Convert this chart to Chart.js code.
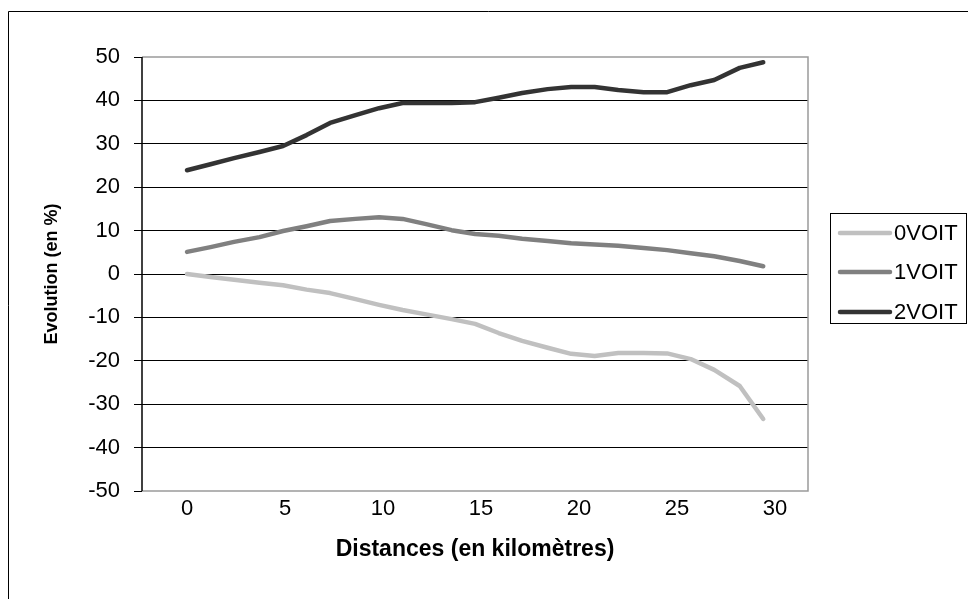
<!DOCTYPE html>
<html>
<head>
<meta charset="utf-8">
<script src="https://cdn.jsdelivr.net/npm/chart.js@4.4.1/dist/chart.umd.min.js"></script>
<style>
  html, body { margin: 0; padding: 0; background: #fff; }
  #wrap { position: absolute; left: 0; top: 0; width: 968px; height: 599px; }
</style>
</head>
<body>
<div id="wrap"><canvas id="c" width="968" height="599"></canvas></div>
<script>
// Distances (km) of each sample
const distances = [0, 1.2, 2.4, 3.7, 4.9, 6.1, 7.3, 8.6, 9.8, 11.0, 12.2, 13.5, 14.7,
                   15.9, 17.1, 18.4, 19.6, 20.8, 22.0, 23.3, 24.5, 25.7, 26.9, 28.2, 29.4];
// Evolution (%) per series
const voit0 = [0, -0.7, -1.3, -2.0, -2.6, -3.6, -4.4, -5.8, -7.1, -8.3, -9.3, -10.4, -11.5,
               -13.6, -15.4, -17.0, -18.4, -18.9, -18.2, -18.2, -18.3, -19.6, -22.1, -25.8, -33.4];
const voit1 = [5.1, 6.2, 7.4, 8.5, 9.9, 11.0, 12.2, 12.7, 13.1, 12.7, 11.5, 10.1, 9.2,
               8.8, 8.1, 7.6, 7.1, 6.8, 6.5, 6.0, 5.5, 4.8, 4.1, 3.0, 1.8];
const voit2 = [23.9, 25.3, 26.7, 28.1, 29.5, 32.0, 34.8, 36.6, 38.2, 39.4, 39.4, 39.4, 39.6,
               40.6, 41.7, 42.6, 43.1, 43.1, 42.4, 41.9, 41.9, 43.5, 44.7, 47.5, 48.8];
const seriesNames = ['0VOIT', '1VOIT', '2VOIT'];
const seriesColors = ['#c0c0c0', '#808080', '#333333'];
const xTickValues = [0, 5, 10, 15, 20, 25, 30];
const yTickValues = [-50, -40, -30, -20, -10, 0, 10, 20, 30, 40, 50];
const xTitle = 'Distances (en kilomètres)';
const yTitle = 'Evolution (en %)';

const FONT = "'Liberation Sans', Arial, sans-serif";

function pts(ys) { return ys.map((v, i) => ({ x: distances[i], y: v })); }

const allSeries = [voit0, voit1, voit2];
const datasets = allSeries.map((ys, i) => ({
  label: seriesNames[i],
  data: pts(ys),
  borderColor: seriesColors[i],
  backgroundColor: seriesColors[i],
  borderWidth: 4.5,
  pointRadius: 0,
  pointHoverRadius: 0,
  tension: 0,
  borderCapStyle: 'round',
  borderJoinStyle: 'round',
  fill: false
}));

const framePlugin = {
  id: 'frame',
  beforeDraw(chart) {
    const ctx = chart.ctx;
    ctx.save();
    ctx.fillStyle = '#fff';
    ctx.fillRect(0, 0, chart.width, chart.height);
    ctx.strokeStyle = '#000';
    ctx.lineWidth = 1;
    ctx.beginPath();
    ctx.moveTo(8.5, chart.height + 5);
    ctx.lineTo(8.5, 11.5);
    ctx.lineTo(chart.width + 5, 11.5);
    ctx.stroke();
    ctx.restore();
  },
  beforeDatasetsDraw(chart) {
    const a = chart.chartArea;
    const ctx = chart.ctx;
    ctx.save();
    ctx.strokeStyle = '#9a9a9a';
    ctx.lineWidth = 1.5;
    ctx.beginPath();
    ctx.moveTo(a.left, a.top);
    ctx.lineTo(a.right, a.top);
    ctx.lineTo(a.right, a.bottom);
    ctx.lineTo(a.left, a.bottom);
    ctx.stroke();
    ctx.strokeStyle = '#000';
    ctx.lineWidth = 1.5;
    ctx.beginPath();
    ctx.moveTo(a.left, a.top);
    ctx.lineTo(a.left, a.bottom);
    ctx.stroke();
    ctx.restore();
  },
  afterDraw(chart) {
    const ctx = chart.ctx;
    ctx.save();
    const bx = 830, by = 213, bw = 136, bh = 110;
    ctx.strokeStyle = '#000';
    ctx.lineWidth = 1;
    ctx.strokeRect(bx + 0.5, by + 0.5, bw, bh);
    const rows = [233, 272, 312];
    chart.data.datasets.forEach((ds, i) => {
      ctx.strokeStyle = ds.borderColor;
      ctx.lineWidth = 4.5;
      ctx.lineCap = 'round';
      ctx.beginPath();
      ctx.moveTo(840, rows[i]);
      ctx.lineTo(890, rows[i]);
      ctx.stroke();
      ctx.fillStyle = '#000';
      ctx.font = '22px ' + FONT;
      ctx.textAlign = 'left';
      ctx.textBaseline = 'middle';
      ctx.fillText(ds.label, 894, rows[i] + 1);
    });
    ctx.restore();
  }
};

new Chart(document.getElementById('c'), {
  type: 'line',
  data: { datasets },
  plugins: [framePlugin],
  options: {
    responsive: false,
    animation: false,
    devicePixelRatio: 1,
    layout: { padding: { left: 0, top: 57, right: 160, bottom: 0 } },
    plugins: { legend: { display: false }, tooltip: { enabled: false } },
    scales: {
      x: {
        type: 'linear',
        min: -2.296,
        max: 31.684,
        afterBuildTicks(scale) { scale.ticks = xTickValues.map(v => ({ value: v })); },
        afterFit(scale) { scale.height = 108; },
        grid: { display: false, drawTicks: false },
        border: { display: false },
        ticks: {
          color: '#000',
          font: { family: FONT, size: 22 },
          padding: 5,
          maxRotation: 0,
          autoSkip: false
        },
        title: {
          display: true,
          text: xTitle,
          color: '#000',
          font: { family: FONT, size: 23, weight: 'bold' },
          padding: { top: 0, bottom: 36 }
        }
      },
      y: {
        type: 'linear',
        min: -50,
        max: 50,
        afterBuildTicks(scale) { scale.ticks = yTickValues.map(v => ({ value: v })); },
        afterFit(scale) { scale.width = 142; },
        grid: {
          color: (c) => (c.tick && Math.abs(c.tick.value) === 50) ? 'rgba(0,0,0,0)' : '#000',
          tickColor: '#000',
          lineWidth: 1,
          drawTicks: true,
          tickLength: 8
        },
        border: { display: false },
        ticks: {
          color: '#000',
          font: { family: FONT, size: 22 },
          padding: 14,
          autoSkip: false
        },
        title: {
          display: true,
          text: yTitle,
          color: '#000',
          font: { family: FONT, size: 18, weight: 'bold' },
          padding: { top: 41, bottom: 0 }
        }
      }
    }
  }
});
</script>
</body>
</html>
